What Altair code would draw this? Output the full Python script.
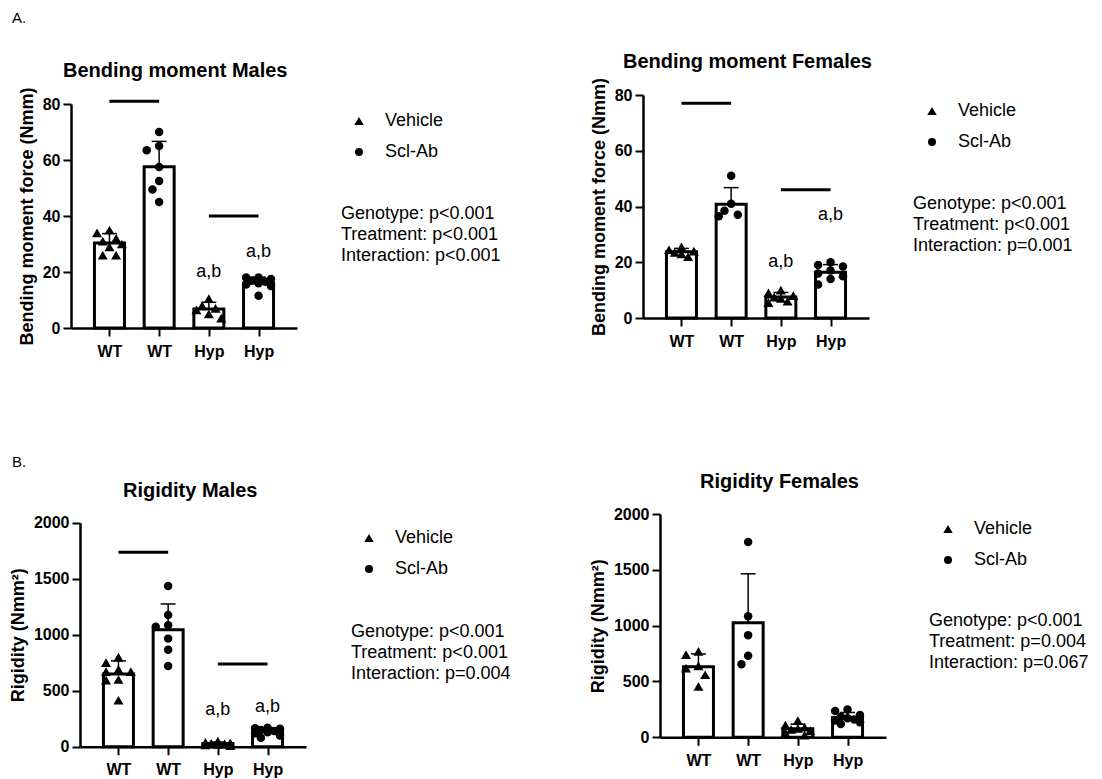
import statistics
import altair as alt
import pandas as pd

FONT = "Liberation Sans"

# ---------------- data ----------------
tick_groups = ["WT", "WT", "Hyp", "Hyp"]
treatments = ["Vehicle", "Scl-Ab", "Vehicle", "Scl-Ab"]

bend_males = [
    [35, 34, 32, 31, 30, 29, 26, 26],
    [70, 65, 63.5, 57.5, 52.5, 49.5, 45],
    [10.5, 8, 7, 6.5, 5, 3.5],
    [18, 18, 17.5, 17, 16.5, 16, 15.5, 15, 11.5],
]
bend_females = [
    [25.5, 24.5, 24, 23.5, 23, 22],
    [51, 41, 38.5, 37, 36.5],
    [10, 9, 8, 7.5, 7, 6, 5.5],
    [20, 19, 18.5, 17, 16, 15, 14, 12],
]
rig_males = [
    [800, 750, 690, 670, 670, 600, 595, 415],
    [1435, 1175, 1085, 1070, 965, 865, 720],
    [50, 40, 35, 30, 25, 20, 15, 10],
    [170, 165, 160, 150, 140, 130, 120, 100, 80],
]
rig_females = [
    [770, 740, 640, 620, 560, 455],
    [1750, 1085, 915, 730, 655],
    [150, 110, 90, 80, 70, 60, 40, 20],
    [250, 235, 200, 185, 170, 160, 150, 135, 120],
]

# significance bars: (from group, to group, height)
sig_bend_m = [(0, 1, 81), (2, 3, 40)]
sig_bend_f = [(0, 1, 77), (2, 3, 46)]
sig_rig_m = [(0, 1, 1736), (2, 3, 738)]
sig_rig_f = []

# "a,b" labels: (group, height)
ab_bend_m = [(2, 20), (3, 27)]
ab_bend_f = [(2, 20), (3, 37)]
ab_rig_m = [(2, 328), (3, 352)]
ab_rig_f = []

pvals_bend_m = ["Genotype: p<0.001", "Treatment: p<0.001", "Interaction: p<0.001"]
pvals_bend_f = ["Genotype: p<0.001", "Treatment: p<0.001", "Interaction: p=0.001"]
pvals_rig_m = ["Genotype: p<0.001", "Treatment: p<0.001", "Interaction: p=0.004"]
pvals_rig_f = ["Genotype: p<0.001", "Treatment: p=0.004", "Interaction: p=0.067"]

# ---------------- layout ----------------
W, H = 1086, 763
STEP = 52.0
XPAD = 35.0 / STEP
CAP = 0.15
one = pd.DataFrame({"k": [0]})


def swarm(vals, ppu, d=9.0):
    order = sorted(range(len(vals)), key=lambda i: -vals[i])
    cands = [0, -7, 7, -13, 13]
    placed, offs = [], [0.0] * len(vals)
    for i in order:
        y = vals[i] * ppu
        chosen, best, bestd = None, 0, -1
        for c in cands:
            md = min([((c - px) ** 2 + (y - py) ** 2) ** 0.5 for px, py in placed], default=1e9)
            if md >= d:
                chosen = c
                break
            if md > bestd:
                bestd, best = md, c
        if chosen is None:
            chosen = best
        offs[i] = chosen / STEP
        placed.append((chosen, y))
    return offs


def axis_common():
    return dict(
        domainColor="black", domainWidth=2.5, tickColor="black", tickWidth=2, tickSize=8,
        labelFont=FONT, labelFontSize=16, labelFontWeight="bold", labelColor="black",
        titleFont=FONT, titleFontSize=18, titleFontWeight="bold", titleColor="black",
        grid=False, labelFlush=False, labelOverlap=False,
    )


shape_scale = alt.Scale(domain=["Vehicle", "Scl-Ab"], range=["triangle-up", "circle"])
size_scale = alt.Scale(domain=["Vehicle", "Scl-Ab"], range=[100, 72])


def panel(groups_vals, xr, yr, ymax, yticks, ytitle, sig, ab):
    ppu = (yr[0] - yr[1]) / ymax
    brow, prow = [], []
    for i, (vals, tr) in enumerate(zip(groups_vals, treatments)):
        m = statistics.mean(vals)
        s = statistics.stdev(vals)
        brow.append(dict(i=i, m=m, up=m + s, c0=i - CAP, c1=i + CAP))
        for v, o in zip(vals, swarm(vals, ppu)):
            prow.append(dict(xj=i + o, v=v, tr=tr))
    dfb = pd.DataFrame(brow)
    dfp = pd.DataFrame(prow)
    xs = alt.Scale(domain=[-XPAD, 3 + XPAD], range=list(xr), nice=False, zero=False)
    ys = alt.Scale(domain=[0, ymax], range=list(yr), nice=False, zero=True)
    xaxis = alt.Axis(orient="bottom", offset=yr[0] - H, values=[0, 1, 2, 3],
                     labelExpr="datum.value < 1.5 ? 'WT' : 'Hyp'", title=None,
                     labelPadding=7, **axis_common())
    yaxis = alt.Axis(orient="left", offset=-xr[0], values=yticks, title=ytitle, format="d",
                     labelPadding=3, titlePadding=6, **axis_common())

    def X(f):
        return alt.X(f, scale=xs, axis=xaxis)

    def Y(f):
        return alt.Y(f, scale=ys, axis=yaxis)

    bars = alt.Chart(dfb).mark_bar(orient="vertical", size=30, fill="white", stroke="black",
                                   strokeWidth=3).encode(x=X("i:Q"), y=Y("m:Q"))
    err = alt.Chart(dfb).mark_rule(color="black", strokeWidth=1.5).encode(
        x=X("i:Q"), y=Y("m:Q"), y2="up:Q")
    cap = alt.Chart(dfb).mark_rule(color="black", strokeWidth=1.5).encode(
        x=X("c0:Q"), x2="c1:Q", y=Y("up:Q"))
    pts = alt.Chart(dfp).mark_point(filled=True, opacity=1, color="black",
                                    strokeWidth=0).encode(
        x=X("xj:Q"), y=Y("v:Q"),
        shape=alt.Shape("tr:N", scale=shape_scale, legend=None),
        size=alt.Size("tr:N", scale=size_scale, legend=None),
    )
    layers = [bars, err, cap, pts]
    if sig:
        dfs = pd.DataFrame([dict(a=a, b=b, h=h) for a, b, h in sig])
        layers.append(alt.Chart(dfs).mark_rule(color="black", strokeWidth=3).encode(
            x=X("a:Q"), x2="b:Q", y=Y("h:Q")))
    if ab:
        dfa = pd.DataFrame([dict(g=g, h=h, t="a,b") for g, h in ab])
        layers.append(alt.Chart(dfa).mark_text(font=FONT, fontSize=18, color="black",
                                               baseline="middle").encode(
            x=X("g:Q"), y=Y("h:Q"), text="t:N"))
    return alt.layer(*layers)


def txt(s, x, y, size=18, weight="normal", align="left", baseline="middle", lh=None):
    kw = dict(text=s, font=FONT, fontSize=size, fontWeight=weight, align=align,
              baseline=baseline, color="black")
    if lh:
        kw["lineHeight"] = lh
    return alt.Chart(one).mark_text(**kw).encode(x=alt.value(x), y=alt.value(y))


def sym(shape, x, y, size):
    return alt.Chart(one).mark_point(shape=shape, filled=True, opacity=1, color="black",
                                     size=size, strokeWidth=0).encode(x=alt.value(x), y=alt.value(y))


def legend_block(x, y, px, py, pv):
    return [
        sym("triangle-up", x, y, 90), txt("Vehicle", x + 26, y),
        sym("circle", x, y + 31, 64), txt("Scl-Ab", x + 26, y + 31),
        txt(pv, px, py, baseline="top", lh=21),
    ]


p_am = panel(bend_males, (63, 289), (320, 96), 80, [0, 20, 40, 60, 80],
             "Bending moment force (Nmm)", sig_bend_m, ab_bend_m)
p_af = panel(bend_females, (635, 861), (310, 87), 80, [0, 20, 40, 60, 80],
             "Bending moment force (Nmm)", sig_bend_f, ab_bend_f)
p_bm = panel(rig_males, (72, 298), (738.7, 514.7), 2000, [0, 500, 1000, 1500, 2000],
             "Rigidity (Nmm²)", sig_rig_m, ab_rig_m)
p_bf = panel(rig_females, (652, 878), (729.3, 506), 2000, [0, 500, 1000, 1500, 2000],
             "Rigidity (Nmm²)", sig_rig_f, ab_rig_f)

annots = [
    txt("A.", 4, 10, size=15),
    txt("B.", 4, 454, size=15),
    txt("Bending moment Males", 55, 69, size=20, weight="bold", baseline="alphabetic"),
    txt("Bending moment Females", 615, 60, size=20, weight="bold", baseline="alphabetic"),
    txt("Rigidity Males", 115, 489, size=20, weight="bold", baseline="alphabetic"),
    txt("Rigidity Females", 692, 480, size=20, weight="bold", baseline="alphabetic"),
]
annots += legend_block(351, 113, 333, 197, pvals_bend_m)
annots += legend_block(924, 103, 905, 187, pvals_bend_f)
annots += legend_block(361, 530, 343, 615, pvals_rig_m)
annots += legend_block(940, 521, 921, 604, pvals_rig_f)

chart = alt.layer(p_am, p_af, p_bm, p_bf, *annots).resolve_scale(
    x="independent", y="independent"
).resolve_axis(x="independent", y="independent").properties(
    width=W, height=H, padding=0
).configure_view(strokeWidth=0)

chart.save("out.html", embed_options={"renderer": "svg", "actions": False})
